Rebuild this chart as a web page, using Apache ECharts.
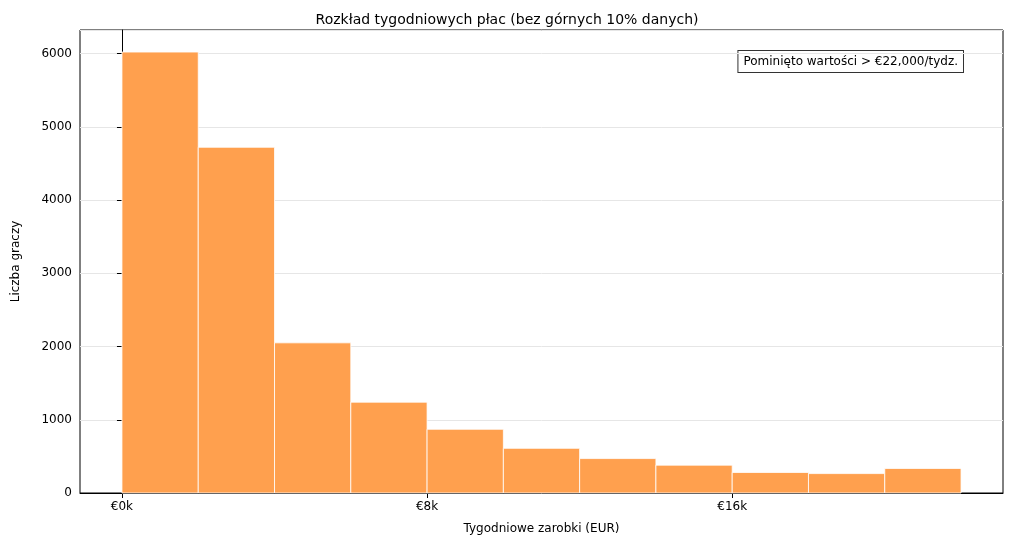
<!DOCTYPE html>
<html>
<head>
<meta charset="utf-8">
<script src="https://cdn.jsdelivr.net/npm/echarts@6/dist/echarts.min.js"></script>
<style>html,body{margin:0;padding:0;background:#fff}#chart{width:1014px;height:546px}</style>
</head>
<body>
<div id="chart"></div>
<script>
// histogram bins (EUR / week) and counts
const binStarts = [0, 2000, 4000, 6000, 8000, 10000, 12000, 14000, 16000, 18000, 20000];
const binWidth = 2000;
const counts = [6020, 4720, 2050, 1240, 870, 610, 470, 380, 280, 265, 335];
const xTicks = [0, 8000, 16000];
const yTicks = [0, 1000, 2000, 3000, 4000, 5000, 6000];

const data = binStarts.map((s, i) => [s, s + binWidth, counts[i]]);
const font = 'DejaVu Sans';

echarts.init(document.getElementById('chart')).setOption({
    animation: false,
    textStyle: { fontFamily: font },
    title: {
        text: 'Rozkład tygodniowych płac (bez górnych 10% danych)',
        left: 'center', top: 8,
        textStyle: { fontFamily: font, fontSize: 14, fontWeight: 'normal', color: '#000' }
    },
    grid: { left: 80, right: 11, top: 30, bottom: 53, show: true, borderColor: '#000', borderWidth: 1 },
    xAxis: {
        type: 'value', min: -1100, max: 23100,
        name: 'Tygodniowe zarobki (EUR)', nameLocation: 'middle', nameGap: 30,
        nameTextStyle: { fontSize: 12, color: '#000' },
        axisLine: { lineStyle: { color: '#000' } },
        axisTick: { show: true, customValues: xTicks, lineStyle: { color: '#000' } },
        axisLabel: { customValues: xTicks, color: '#000', fontSize: 12,
            formatter: v => '€' + Math.round(v / 1000) + 'k' },
        splitLine: { show: false }
    },
    yAxis: {
        type: 'value', min: 0, max: 6321, interval: 1000,
        name: 'Liczba graczy', nameLocation: 'middle', nameGap: 58,
        nameTextStyle: { fontSize: 12, color: '#000' },
        axisLine: { show: true, lineStyle: { color: '#000' } },
        axisTick: { show: true, lineStyle: { color: '#000' } },
        axisLabel: { color: '#000', fontSize: 12, showMaxLabel: false,
            formatter: v => yTicks.includes(v) ? String(v) : '' },
        splitLine: { lineStyle: { color: '#e6e6e6' } }
    },
    series: [{
        type: 'custom',
        data: data,
        encode: { x: [0, 1], y: 2 },
        renderItem: (params, api) => {
            const p0 = api.coord([api.value(0), api.value(2)]);
            const p1 = api.coord([api.value(1), 0]);
            return {
                type: 'rect',
                shape: { x: p0[0], y: p0[1], width: p1[0] - p0[0], height: p1[1] - p0[1] },
                style: { fill: '#ffa04e', stroke: '#fff', lineWidth: 0.8 }
            };
        }
    }],
    graphic: [{
        type: 'text', right: 50, top: 50,
        style: {
            text: 'Pominięto wartości > €22,000/tydz.',
            font: '12px DejaVu Sans', fill: '#000',
            backgroundColor: '#fff', borderColor: '#333', borderWidth: 1,
            padding: [5, 5, 4, 5]
        }
    }]
});
</script>
</body>
</html>
